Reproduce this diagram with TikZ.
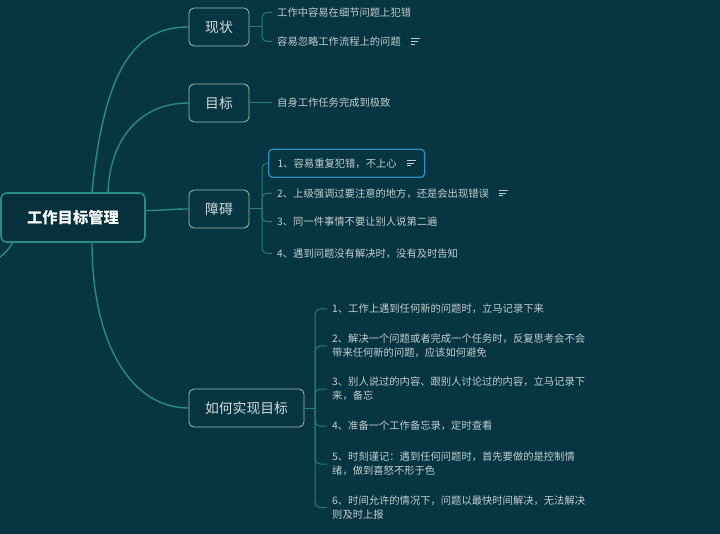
\documentclass[tikz,border=0pt]{standalone}
\usepackage{fontspec}
\setmainfont{Noto Sans CJK SC}
\definecolor{bgteal}{HTML}{073642}
\definecolor{rootfill}{HTML}{06313C}
\definecolor{linkteal}{HTML}{2A8A85}
\definecolor{leafteal}{HTML}{277E7A}
\definecolor{boxgrey}{HTML}{A9BABB}
\definecolor{topictext}{HTML}{D3DADB}
\definecolor{leaftext}{HTML}{C3CDCF}
\definecolor{focusblue}{HTML}{2590C6}
\newcommand{\notemark}{\hspace{10pt}\raisebox{0.8pt}{\vbox{\hrule width 9pt height 0.9pt\vskip 1.9pt\hrule width 7pt height 0.9pt\vskip 1.9pt\hrule width 4.5pt height 0.9pt}}}

\begin{document}
\begin{tikzpicture}[x=1pt,y=-1pt]
	\tikzstyle{every node}+=[inner sep=0pt]
	\tikzstyle{rootbox}=[draw=linkteal,line width=1.6pt,fill=rootfill,rounded corners=6pt,minimum width=144pt,minimum height=49pt,text=white,font=\fontsize{15.3}{18}\selectfont\bfseries]
	\tikzstyle{topicbox}=[draw=boxgrey,line width=0.8pt,rounded corners=5pt,minimum width=60pt,minimum height=38pt,text=topictext,font=\fontsize{13.8}{16}\selectfont]
	\tikzstyle{leafnode}=[anchor=west,inner xsep=5pt,text=leaftext,align=left,font=\fontsize{10.3}{14}\selectfont]
	\tikzstyle{focusbox}=[draw=focusblue,line width=1.3pt,rounded corners=4pt,inner xsep=9pt,minimum height=28pt]
	\tikzstyle{mainlink}=[draw=linkteal,line width=1.4pt]
	\tikzstyle{leaflink}=[draw=leafteal,line width=1pt,rounded corners=5pt]

	\useasboundingbox [fill=bgteal] (0,0) rectangle (720,534);

	\node [rootbox] (root) at (73,217.5) {工作目标管理};
	\node [topicbox] (xianzhuang) at (219,27) {现状};
	\node [topicbox] (mubiao) at (219,103) {目标};
	\node [topicbox] (zhangai) at (219,209) {障碍};
	\node [topicbox,minimum width=115pt] (shixian) at (246.5,408) {如何实现目标};

	\draw [mainlink] ([xshift=19pt]root.north) .. controls +(13,-133) and +(-49,0) .. (xianzhuang.west);
	\draw [mainlink] ([xshift=35pt]root.north) .. controls +(2,-53) and +(-49,0) .. (mubiao.west);
	\draw [mainlink] ([yshift=7pt]root.east) .. controls +(20,0) and +(-20,0) .. (zhangai.west);
	\draw [mainlink] ([xshift=19pt]root.south) .. controls +(0,98) and +(-59,0) .. (shixian.west);
	\coordinate (offleft) at (-3,259);
	\draw [mainlink] ([xshift=12pt]root.south west) .. controls +(-3,7) and +(5,-3) .. (offleft);

	% 现状
	\node [leafnode] (xz1) at (272,12.5) {工作中容易在细节问题上犯错};
	\node [leafnode] (xz2) at (272,41.5) {容易忽略工作流程上的问题\notemark};
	\coordinate (xzfork) at (262,27);
	\draw [leaflink] (xianzhuang.east) -- (xzfork);
	\foreach \leaf in {xz1,xz2}
		\draw [leaflink] (xzfork) |- (\leaf.west);

	% 目标
	\node [leafnode] (mb1) at (272,103) {自身工作任务完成到极致};
	\draw [leaflink] (mubiao.east) -- (mb1.west);

	% 障碍
	\node [leafnode,focusbox] (za1) at (268,163.3) {1、容易重复犯错，不上心\notemark};
	\node [leafnode] (za2) at (272,193.3) {2、上级强调过要注意的地方，还是会出现错误\notemark};
	\node [leafnode] (za3) at (272,221.7) {3、同一件事情不要让别人说第二遍};
	\node [leafnode] (za4) at (272,253.3) {4、遇到问题没有解决时，没有及时告知};
	\coordinate (zafork) at (262,209);
	\draw [leaflink] (zhangai.east) -- (zafork);
	\foreach \leaf in {za1,za2,za3,za4}
		\draw [leaflink] (zafork) |- (\leaf.west);

	% 如何实现目标
	\node [leafnode] (sx1) at (327,309) {1、工作上遇到任何新的问题时，立马记录下来};
	\node [leafnode] (sx2) at (327,346) {2、解决一个问题或者完成一个任务时，反复思考会不会\\带来任何新的问题，应该如何避免};
	\node [leafnode] (sx3) at (327,389) {3、别人说过的内容、跟别人讨论过的内容，立马记录下\\来，备忘};
	\node [leafnode] (sx4) at (327,426) {4、准备一个工作备忘录，定时查看};
	\node [leafnode] (sx5) at (327,464) {5、时刻谨记：遇到任何问题时，首先要做的是控制情\\绪，做到喜怒不形于色};
	\node [leafnode] (sx6) at (327,507.5) {6、时间允许的情况下，问题以最快时间解决，无法解决\\则及时上报};
	\coordinate (sxfork) at (315,408);
	\draw [leaflink] (shixian.east) -- (sxfork);
	\foreach \leaf in {sx1,sx2,sx3,sx4,sx5,sx6}
		\draw [leaflink] (sxfork) |- (\leaf.west);
\end{tikzpicture}
\end{document}
